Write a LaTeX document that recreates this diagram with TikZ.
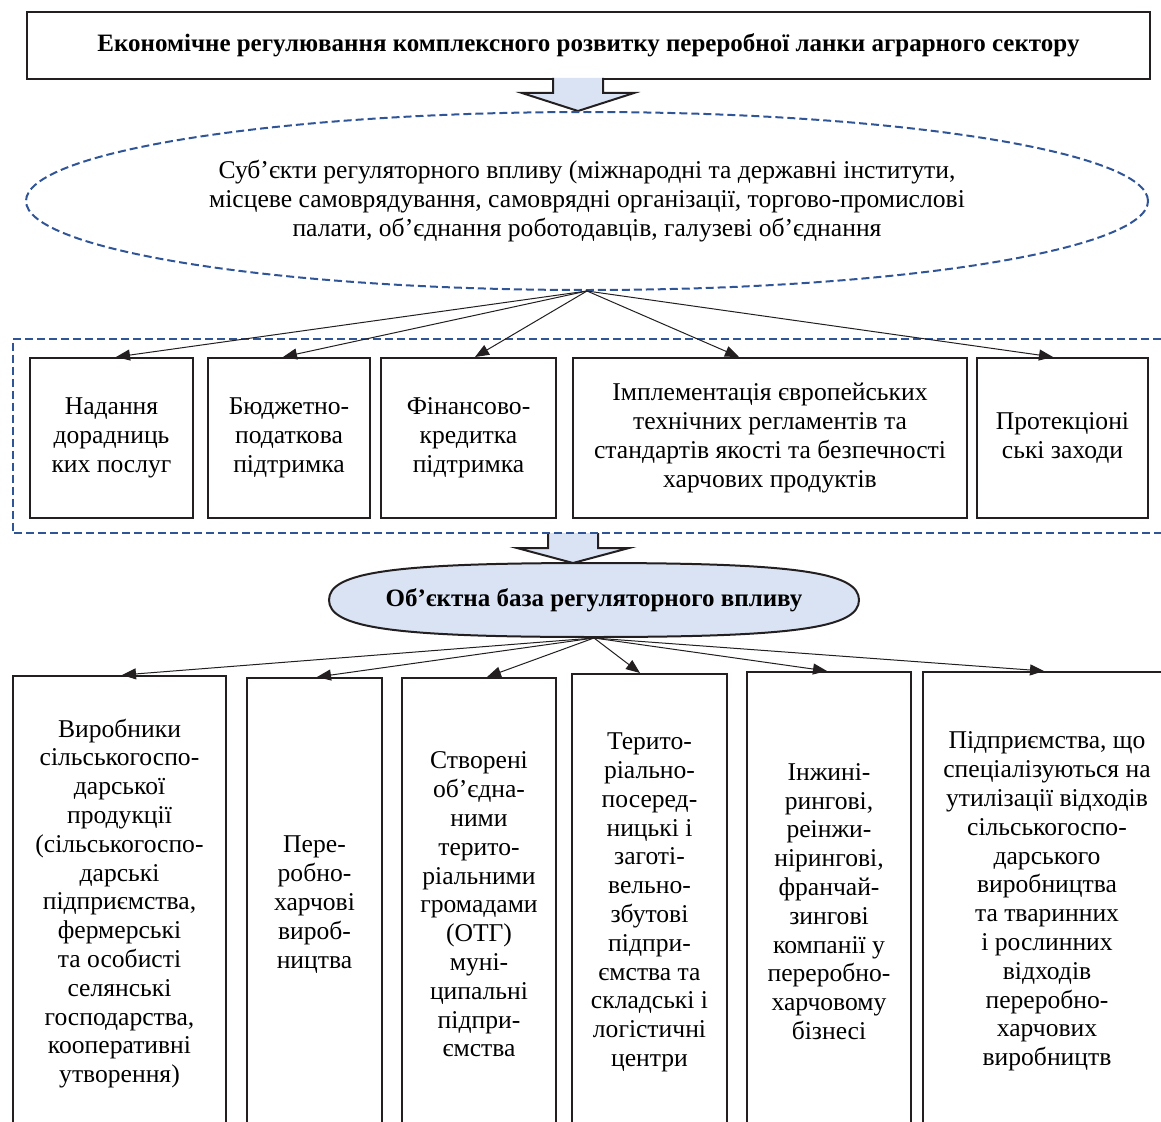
\documentclass[tikz,border=0pt]{standalone}
\usepackage{fontspec}
\setmainfont{Liberation Serif}
\usetikzlibrary{shapes.geometric, arrows.meta, calc}

\definecolor{dashblue}{RGB}{47,85,151}
\definecolor{lightblue}{RGB}{218,227,243}
\definecolor{inkblack}{RGB}{35,31,32}

\tikzset{
  box/.style={draw=inkblack, line width=2pt, fill=white, align=center, inner sep=0pt,
    font=\fontsize{25.6}{28.8}\selectfont},
  conn/.style={draw=inkblack, line width=1pt, -{Triangle[length=14pt,width=11pt]}},
  barrow/.style={draw=inkblack, line width=2pt, fill=lightblue, line join=miter},
  bluedash/.style={draw=dashblue, line width=2pt, dash pattern=on 8pt off 4pt},
}

\begin{document}
\begin{tikzpicture}[x=1pt, y=-1pt]
  \useasboundingbox (0,0) rectangle (1161,1121);
  \clip (0,0) rectangle (1161,1121);

  % title
  \node[box, line width=2.5pt, minimum width=1123pt, minimum height=67pt,
    font=\fontsize{25}{28.5}\selectfont\bfseries] (title) at (588.5,45.5)
    {Економічне регулювання комплексного розвитку переробної ланки аграрного сектору};

  % block arrows
  \foreach \cx/\ya/\yb/\yc in {578/78/93/111, 573/533/548/563}
    \draw[barrow] ({\cx-25},\ya) -- ({\cx-25},\yb) -- ({\cx-56},\yb) -- (\cx,\yc)
      -- ({\cx+56},\yb) -- ({\cx+25},\yb) -- ({\cx+25},\ya);

  % subjects
  \node[box, ellipse, bluedash, fill=none, minimum width=1122pt, minimum height=178pt]
    (subj) at (587,201)
    {Суб’єкти регуляторного впливу (міжнародні та державні інститути,\\
     місцеве самоврядування, самоврядні організації, торгово-промислові\\
     палати, об’єднання роботодавців, галузеві об’єднання};

  % frame of measures
  \draw[bluedash] (1161,339) -- (12.5,339) -- (12.5,533) -- (1161,533);

  \node[box, minimum width=163pt, minimum height=160pt] (m1) at (111.5,438)
    {Надання\\дорадниць\\ких послуг};
  \node[box, minimum width=162pt, minimum height=160pt] (m2) at (289,438)
    {Бюджетно-\\податкова\\підтримка};
  \node[box, minimum width=175pt, minimum height=160pt] (m3) at (468.5,438)
    {Фінансово-\\кредитка\\підтримка};
  \node[box, minimum width=394pt, minimum height=160pt] (m4) at (770,438)
    {Імплементація європейських\\технічних регламентів та\\стандартів якості та безпечності\\харчових продуктів};
  \node[box, minimum width=171pt, minimum height=160pt] (m5) at (1062.5,438)
    {Протекціоні\\ські заходи};

  \foreach \n/\dx in {m1/4.5, m2/-6, m3/6.5, m4/-31, m5/-9.5}
    \draw[conn] (subj.south) -- ($(\n.north)+(\dx,0)$);

  % object base
  \coordinate (oc) at (594,600);
  \draw[barrow] (oc) ++(-265,0) .. controls +(0,-28) and +(-200,0) .. ++(265,-37)
    .. controls +(200,0) and +(0,-28) .. ++(265,37)
    .. controls +(0,28) and +(200,0) .. ++(-265,37)
    .. controls +(-200,0) and +(0,28) .. ++(-265,-37) -- cycle;
  \node[box, draw=none, fill=none, minimum width=530pt, minimum height=74pt,
    font=\fontsize{25}{28.5}\selectfont\bfseries] (obj) at (oc)
    {Об’єктна база регуляторного впливу};

  \node[box, minimum width=213pt, minimum height=455pt] (o1) at (119.5,903.5)
    {Виробники\\сільськогоспо-\\дарської\\продукції\\(сільськогоспо-\\дарські\\підприємства,\\фермерські\\та особисті\\селянські\\господарства,\\кооперативні\\утворення)};
  \node[box, minimum width=135pt, minimum height=453pt] (o2) at (314.5,904.5)
    {Пере-\\робно-\\харчові\\вироб-\\ництва};
  \node[box, minimum width=154pt, minimum height=453pt] (o3) at (479,904.5)
    {Створені\\об’єдна-\\ними\\терито-\\ріальними\\громадами\\(ОТГ)\\муні-\\ципальні\\підпри-\\ємства};
  \node[box, minimum width=155pt, minimum height=457pt] (o4) at (649.5,902.5)
    {Терито-\\ріально-\\посеред-\\ницькі і\\заготі-\\вельно-\\збутові\\підпри-\\ємства та\\складські і\\логістичні\\центри};
  \node[box, minimum width=164pt, minimum height=459pt] (o5) at (829,901.5)
    {Інжині-\\рингові,\\реінжи-\\нірингові,\\франчай-\\зингові\\компанії у\\переробно-\\харчовому\\бізнесі};
  \node[box, minimum width=248pt, minimum height=459pt] (o6) at (1047,901.5)
    {Підприємства, що\\спеціалізуються на\\утилізації відходів\\сільськогоспо-\\дарського\\виробництва\\та тваринних\\і рослинних\\відходів\\переробно-\\харчових\\виробництв};

  \foreach \n/\dx in {o1/2.5, o2/2.5, o3/8, o4/-9.5, o5/-2, o6/-3}
    \draw[conn] (obj.south) -- ($(\n.north)+(\dx,0)$);
\end{tikzpicture}
\end{document}
